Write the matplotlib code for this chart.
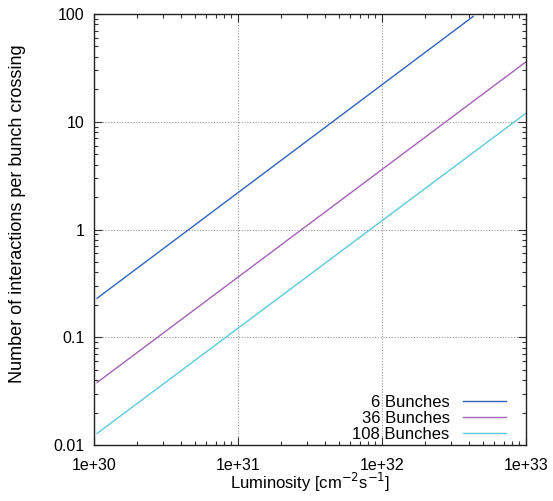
import numpy as np
import matplotlib
matplotlib.use('Agg')
import matplotlib.pyplot as plt
from matplotlib.ticker import LogLocator, FixedLocator, NullFormatter

plt.rcParams['font.family'] = ['Liberation Sans', 'DejaVu Sans']

# line end points (straight lines on log-log axes)
lumi_6 = [1.05e30, 4.3e32]
mu_6 = [0.23, 95.0]
lumi_36 = [1.05e30, 1e33]
mu_36 = [0.038, 36.0]
lumi_108 = [1.05e30, 1e33]
mu_108 = [0.0128, 12.0]

labels = ['6 Bunches', '36 Bunches', '108 Bunches']
colors = ['#2f62bd', '#a262b6', '#5ccbdb']

xticks = [1e30, 1e31, 1e32, 1e33]
xticklabels = ['1e+30', '1e+31', '1e+32', '1e+33']
yticks = [0.01, 0.1, 1, 10, 100]
yticklabels = ['0.01', '0.1', '1', '10', '100']

fig = plt.figure(figsize=(5.53, 5.01), dpi=100)
ax = fig.add_axes([94 / 553, 56 / 501, 432 / 553, 431 / 501])

ax.plot(lumi_6, mu_6, color=colors[0], lw=1.0, label=labels[0])
ax.plot(lumi_36, mu_36, color=colors[1], lw=1.0, label=labels[1])
ax.plot(lumi_108, mu_108, color=colors[2], lw=1.0, label=labels[2])

ax.set_xscale('log')
ax.set_yscale('log')
ax.set_xlim(1e30, 1e33)
ax.set_ylim(0.01, 100)

ax.xaxis.set_major_locator(FixedLocator(xticks))
ax.set_xticklabels(xticklabels)
ax.yaxis.set_major_locator(FixedLocator(yticks))
ax.set_yticklabels(yticklabels)
ax.xaxis.set_minor_locator(LogLocator(base=10, subs=np.arange(2, 10), numticks=20))
ax.yaxis.set_minor_locator(LogLocator(base=10, subs=np.arange(2, 10), numticks=20))
ax.xaxis.set_minor_formatter(NullFormatter())
ax.yaxis.set_minor_formatter(NullFormatter())

ax.tick_params(which='both', direction='in', top=True, right=True, labelsize=11.5,
               color='#333333', width=0.8)
ax.tick_params(which='major', length=6)
ax.tick_params(axis='x', which='major', pad=9)
ax.tick_params(axis='y', which='major', pad=7)
ax.tick_params(which='minor', length=3)
for sp in ax.spines.values():
    sp.set_linewidth(1.0)
    sp.set_color('#222222')

ax.grid(True, which='major', linestyle=(0, (1, 1.5)), color='#999999', lw=0.8)

ax.set_xlabel('Luminosity [cm$^{-2}$s$^{-1}$]', fontsize=12, va='baseline')
ax.xaxis.set_label_coords(0.5, -0.102)
ax.set_ylabel('Number of interactions per bunch crossing', fontsize=13, va='center')
ax.yaxis.set_label_coords(-0.178, 0.536)

ax.legend(loc='lower right', bbox_to_anchor=(0.9537, 0.008), frameon=False,
          markerfirst=False, fontsize=12, handlelength=2.6, handletextpad=0.78,
          labelspacing=0.05, borderaxespad=0, borderpad=0)

fig.savefig('out.png', dpi=100)
